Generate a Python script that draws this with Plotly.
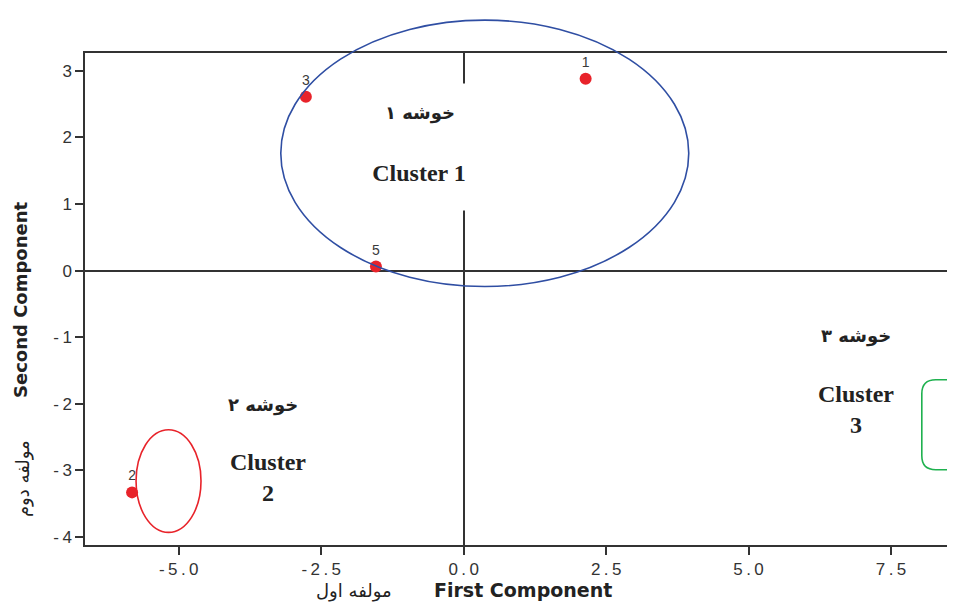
import plotly.graph_objects as go

# ---------------- data ----------------
point_ids = ["1", "2", "3", "4", "5"]
first_component = [2.14, -5.82, -2.77, 8.14, -1.54]
second_component = [2.88, -3.33, 2.61, -2.30, 0.06]

x_tick_vals = [-5.0, -2.5, 0.0, 2.5, 5.0, 7.5]
x_tick_labels = ["-5.0", "-2.5", "0.0", "2.5", "5.0", "7.5"]
y_tick_vals = [3, 2, 1, 0, -1, -2, -3, -4]
y_tick_labels = ["3", "2", "1", "0", "-1", "-2", "-3", "-4"]

# cluster outlines (data units)
cluster1_center = [0.37, 1.76]
cluster1_radii = [3.58, 2.0]
cluster2_center = [-5.18, -3.16]
cluster2_radii = [0.57, 0.77]
cluster3_left, cluster3_top, cluster3_bottom, cluster3_right = 8.04, -1.64, -2.99, 9.8
cluster3_corner = [0.245, 0.21]

# cluster text labels
cluster_fa = ["خوشه ۱", "خوشه ۲", "خوشه ۳"]
cluster_fa_x = [-0.76, -3.53, 6.88]
cluster_fa_y = [2.37, -2.02, -0.98]
cluster_en = ["Cluster 1", "Cluster<br>2", "Cluster<br>3"]
cluster_en_x = [-0.78, -3.43, 6.88]
cluster_en_y = [1.47, -3.11, -2.08]

X_RANGE = [-6.646, 8.482]
Y_RANGE = [-4.12, 3.266]

AX = "#333333"


def spaced(s):
    return "\u2009".join(s)


def ypaper(v):
    return (v - Y_RANGE[0]) / (Y_RANGE[1] - Y_RANGE[0])


fig = go.Figure()
fig.add_trace(go.Scatter(
    x=first_component, y=second_component, mode="markers+text",
    text=point_ids, textposition="top center",
    textfont=dict(family="Liberation Sans", size=14, color="#3a3a3a"),
    marker=dict(color="#e8232a", size=12, line=dict(width=0)),
    showlegend=False, cliponaxis=True,
))

shapes = []
# cluster 1 (blue ellipse, allowed to extend above plot)
shapes.append(dict(
    type="circle", xref="x", yref="paper",
    x0=cluster1_center[0] - cluster1_radii[0], x1=cluster1_center[0] + cluster1_radii[0],
    y0=ypaper(cluster1_center[1] - cluster1_radii[1]), y1=ypaper(cluster1_center[1] + cluster1_radii[1]),
    line=dict(color="#2f4ea3", width=1.6), layer="above",
))
# cluster 2 (red ellipse)
shapes.append(dict(
    type="circle", xref="x", yref="y",
    x0=cluster2_center[0] - cluster2_radii[0], x1=cluster2_center[0] + cluster2_radii[0],
    y0=cluster2_center[1] - cluster2_radii[1], y1=cluster2_center[1] + cluster2_radii[1],
    line=dict(color="#e8232a", width=1.6), layer="above",
))
# cluster 3 (green rounded box, white filled)
L, T, B, R = cluster3_left, cluster3_top, cluster3_bottom, cluster3_right
rx, ry = cluster3_corner
path = (f"M {R},{T} L {L + rx},{T} Q {L},{T} {L},{T - ry} "
        f"L {L},{B + ry} Q {L},{B} {L + rx},{B} L {R},{B} Z")
shapes.append(dict(type="path", xref="x", yref="y", path=path,
                   line=dict(color="#1fb14f", width=1.6), fillcolor="white", layer="above"))

annotations = []
for i in range(3):
    extra = {}
    if i == 0:
        extra = dict(bgcolor="white", width=96, height=56)
    annotations.append(dict(
        x=cluster_fa_x[i], y=cluster_fa_y[i], xref="x", yref="y", text=cluster_fa[i],
        xanchor="center", yanchor="middle",
        showarrow=False, font=dict(family="DejaVu Sans", size=18, color="#222222", weight="bold"),
        **extra))
for i in range(3):
    extra = {}
    if i == 0:
        extra = dict(bgcolor="white", width=100, height=72)
    annotations.append(dict(
        x=cluster_en_x[i], y=cluster_en_y[i], xref="x", yref="y", text="<b>" + cluster_en[i] + "</b>",
        xanchor="center", yanchor="middle",
        showarrow=False, font=dict(family="Liberation Serif", size=24, color="#222222"),
        **extra))

# axis titles
title_font = dict(family="DejaVu Sans", size=18, color="#222222")
annotations.append(dict(x=0.508, y=-0.092, xref="paper", yref="paper", text="<b>First Component</b>",
                        xanchor="center", yanchor="middle", showarrow=False,
                        font=dict(family="DejaVu Sans", size=19, color="#222222")))
annotations.append(dict(x=0.312, y=-0.094, xref="paper", yref="paper", text="مولفه اول",
                        xanchor="center", yanchor="middle", showarrow=False, font=title_font))
annotations.append(dict(x=-0.0742, y=0.498, xref="paper", yref="paper", text="<b>Second Component</b>",
                        xanchor="center", yanchor="middle", showarrow=False, textangle=-90, font=title_font))
annotations.append(dict(x=-0.072, y=0.136, xref="paper", yref="paper", text="مولفه دوم",
                        xanchor="center", yanchor="middle", showarrow=False, textangle=-90, font=title_font))

# page body has an 8px margin: figure sized to fit the window without scrollbars
fig.update_layout(
    width=939, height=596,
    margin=dict(l=77, r=0, t=45, b=59),
    paper_bgcolor="white", plot_bgcolor="white",
    shapes=shapes, annotations=annotations,
    showlegend=False,
)
fig.update_xaxes(
    range=X_RANGE, tickvals=x_tick_vals, ticktext=[spaced(t) for t in x_tick_labels],
    showgrid=False, zeroline=True, zerolinecolor=AX, zerolinewidth=1.5,
    showline=True, linecolor=AX, linewidth=1.5, mirror=True,
    ticks="outside", ticklen=8, tickwidth=1.5, tickcolor=AX,
    tickfont=dict(family="Liberation Sans", size=17, color=AX),
)
fig.update_yaxes(
    range=Y_RANGE, tickvals=y_tick_vals, ticktext=[spaced(t) for t in y_tick_labels],
    showgrid=False, zeroline=True, zerolinecolor=AX, zerolinewidth=1.5,
    showline=True, linecolor=AX, linewidth=1.5, mirror=False,
    ticks="outside", ticklen=8, tickwidth=1.5, tickcolor=AX,
    tickfont=dict(family="Liberation Sans", size=17, color=AX),
)

fig.write_html("out.html")
